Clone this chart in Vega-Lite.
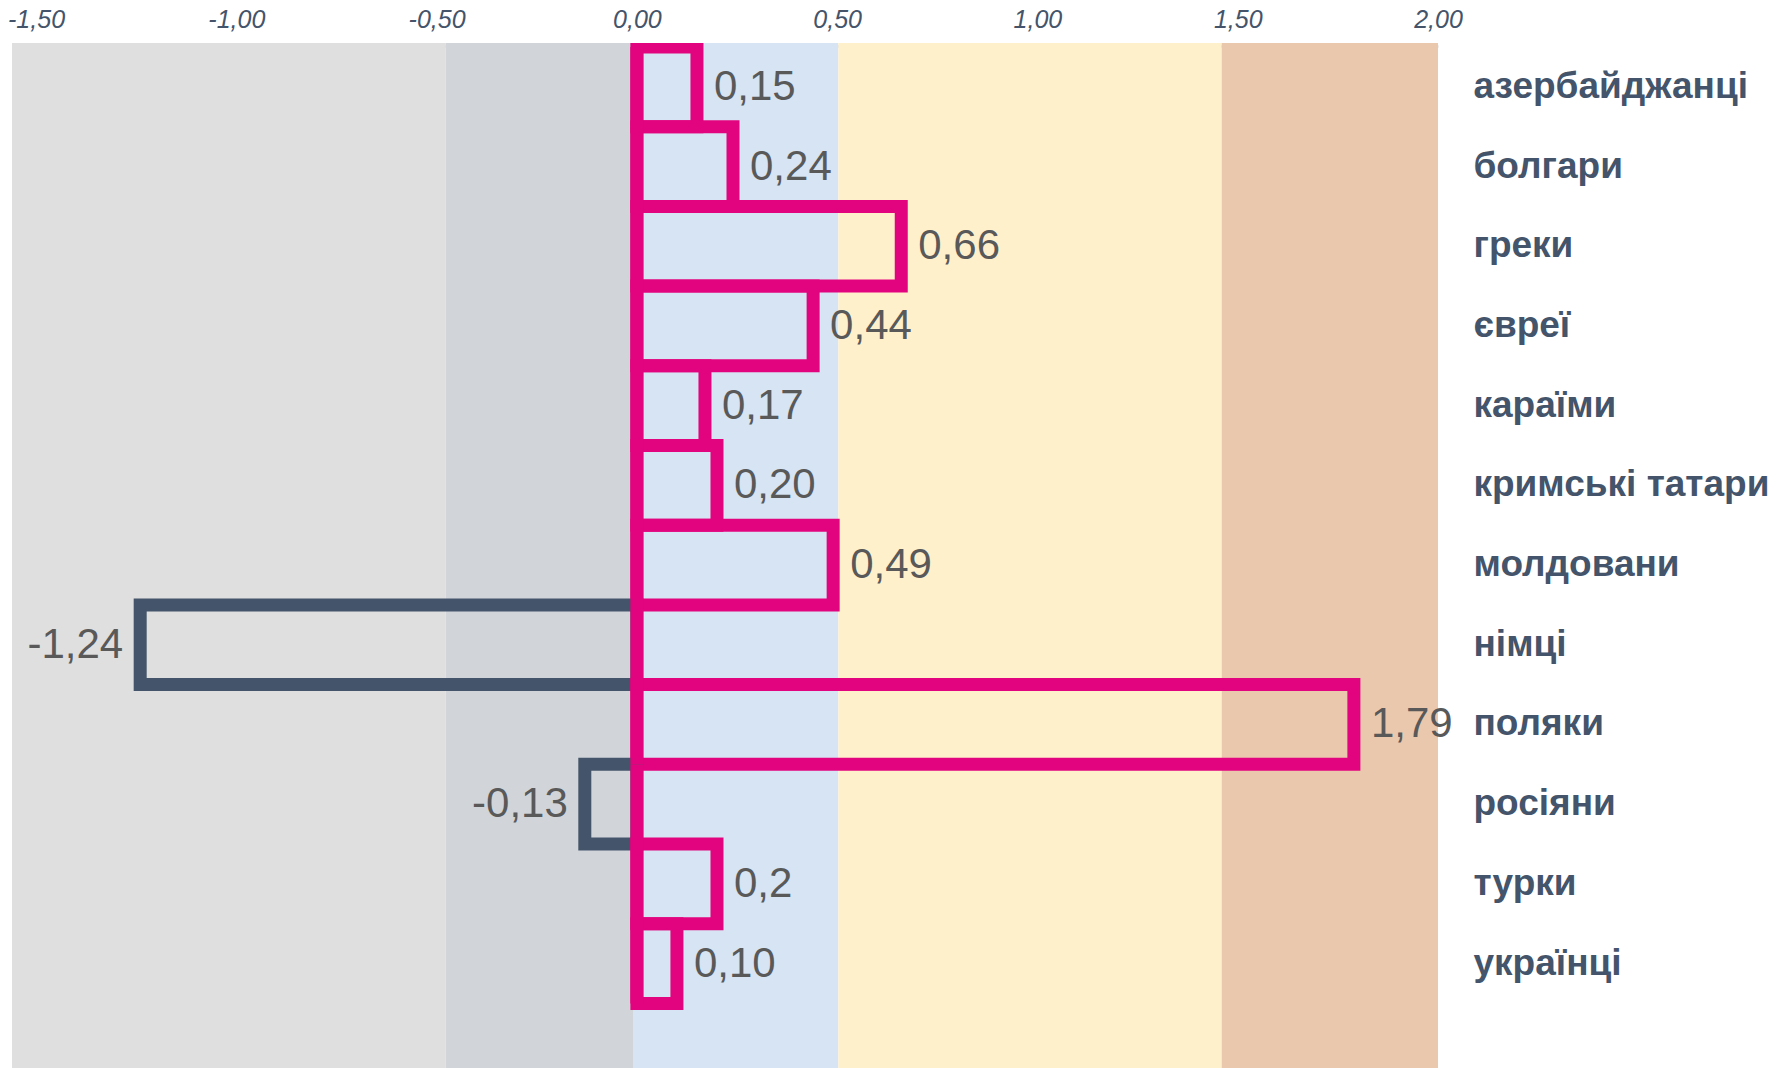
{
  "$schema": "https://vega.github.io/schema/vega-lite/v6.json",
  "width": 1426,
  "height": 1025,
  "autosize": {"type": "none"},
  "padding": {"left": 12, "top": 43, "right": 352, "bottom": 0},
  "background": "white",
  "config": {"view": {"stroke": null}, "font": "Liberation Sans"},
  "datasets": {
    "bands": [
      {"zone": "z1", "from": -1.56, "to": -0.477},
      {"zone": "z2", "from": -0.477, "to": -0.008},
      {"zone": "z3", "from": -0.008, "to": 0.503},
      {"zone": "z4", "from": 0.503, "to": 1.46},
      {"zone": "z5", "from": 1.46, "to": 2.0}
    ],
    "rows": [
      {"cat": "азербайджанці", "value": 0.15, "label": "0,15"},
      {"cat": "болгари", "value": 0.24, "label": "0,24"},
      {"cat": "греки", "value": 0.66, "label": "0,66"},
      {"cat": "євреї", "value": 0.44, "label": "0,44"},
      {"cat": "караїми", "value": 0.17, "label": "0,17"},
      {"cat": "кримські татари", "value": 0.20, "label": "0,20"},
      {"cat": "молдовани", "value": 0.49, "label": "0,49"},
      {"cat": "німці", "value": -1.24, "label": "-1,24"},
      {"cat": "поляки", "value": 1.79, "label": "1,79"},
      {"cat": "росіяни", "value": -0.13, "label": "-0,13"},
      {"cat": "турки", "value": 0.2, "label": "0,2"},
      {"cat": "українці", "value": 0.10, "label": "0,10"}
    ]
  },
  "layer": [
    {
      "data": {"name": "bands"},
      "mark": {"type": "rect"},
      "encoding": {
        "x": {
          "field": "from",
          "type": "quantitative",
          "scale": {"domain": [-1.56, 2.0], "nice": false, "zero": false},
          "axis": {
            "orient": "top",
            "values": [-1.5, -1, -0.5, 0, 0.5, 1, 1.5, 2],
            "labelExpr": "(datum.value < 0 ? '-' : '') + replace(format(abs(datum.value), '.2f'), '.', ',')",
            "labelFont": "Liberation Sans",
            "labelFontStyle": "italic",
            "labelFontSize": 25,
            "labelColor": "#44546A",
            "ticks": false,
            "grid": false,
            "domainColor": "#D9D9D9",
            "domainWidth": 2.5,
            "offset": -3,
            "labelPadding": 14,
            "labelFlush": false,
            "labelOverlap": false,
            "title": null
          }
        },
        "x2": {"field": "to"},
        "color": {
          "field": "zone",
          "type": "nominal",
          "scale": {"domain": ["z1", "z2", "z3", "z4", "z5"], "range": ["#DFDFDF", "#D1D5DA", "#D6E4F3", "#FFF0CC", "#EAC8AE"]},
          "legend": null
        }
      }
    },
    {
      "data": {"name": "rows"},
      "mark": {"type": "bar", "fillOpacity": 0, "strokeWidth": 13, "clip": true},
      "encoding": {
        "y": {
          "field": "cat",
          "type": "nominal",
          "sort": null,
          "scale": {"paddingInner": 0, "paddingOuter": 0.43, "align": 0.058},
          "axis": {
            "orient": "right",
            "ticks": false,
            "domain": false,
            "grid": false,
            "labelFont": "Liberation Sans",
            "labelFontWeight": "bold",
            "labelFontSize": 37,
            "labelColor": "#44546A",
            "labelAlign": "left",
            "labelBaseline": "middle",
            "labelPadding": 35,
            "labelLimit": 400,
            "title": null
          }
        },
        "x": {"field": "value", "type": "quantitative"},
        "stroke": {"condition": {"test": "datum.value < 0", "value": "#44546A"}, "value": "#E2047F"}
      }
    },
    {
      "data": {"name": "rows"},
      "mark": {"type": "bar", "color": "#E2047F"},
      "encoding": {
        "y": {"field": "cat", "type": "nominal", "sort": null},
        "x": {"datum": -0.0162},
        "x2": {"datum": 0.0162}
      }
    },
    {
      "data": {"name": "rows"},
      "transform": [{"filter": "datum.value >= 0"}],
      "mark": {"type": "text", "align": "left", "baseline": "middle", "dx": 17, "fontSize": 42, "font": "Liberation Sans", "color": "#595959"},
      "encoding": {
        "y": {"field": "cat", "type": "nominal", "sort": null},
        "x": {"field": "value", "type": "quantitative"},
        "text": {"field": "label"}
      }
    },
    {
      "data": {"name": "rows"},
      "transform": [{"filter": "datum.value < 0"}],
      "mark": {"type": "text", "align": "right", "baseline": "middle", "dx": -17, "fontSize": 42, "font": "Liberation Sans", "color": "#595959"},
      "encoding": {
        "y": {"field": "cat", "type": "nominal", "sort": null},
        "x": {"field": "value", "type": "quantitative"},
        "text": {"field": "label"}
      }
    }
  ]
}
